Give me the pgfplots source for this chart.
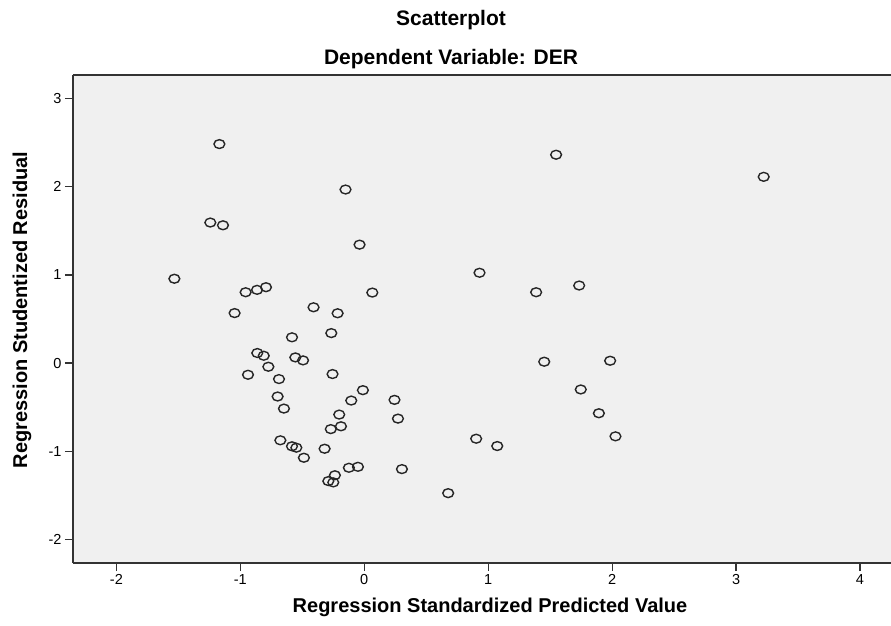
\documentclass[border=0pt]{standalone}
\usepackage{fontspec}
\setmainfont{Liberation Sans}
\usepackage{pgfplots}
\pgfplotsset{compat=1.18}
\definecolor{plotbg}{HTML}{F0F0F0}
\definecolor{axisgray}{HTML}{333333}
\begin{document}
\begin{tikzpicture}[x=1pt,y=1pt]
\useasboundingbox (0,0) rectangle (891,625);
\begin{axis}[
  at={(73pt,62pt)}, anchor=south west,
  width=818pt, height=488pt, scale only axis,
  xmin=-2.35, xmax=4.25, ymin=-2.27, ymax=3.27,
  xtick={-2,-1,0,1,2,3,4}, ytick={-2,-1,0,1,2,3},
  axis x line*=bottom, axis y line*=left,
  axis line style={axisgray, line width=1.6pt, -},
  tick align=outside, major tick length=8pt,
  tick style={axisgray, line width=1.2pt},
  axis background/.style={fill=plotbg},
  ticklabel style={font=\fontsize{14.5}{16}\selectfont},
  /pgf/number format/assume math mode=true,
  clip=false,
]
\addplot[only marks, mark=o, mark size=5.4pt,
  mark options={draw=black!85, line width=1.4pt, yscale=0.82}]
coordinates {
(-1.532,0.957) (-1.169,2.486) (-1.242,1.595) (-1.140,1.564)
(-0.957,0.804) (-0.865,0.831) (-0.793,0.861) (-1.046,0.567)
(-0.409,0.633) (-0.215,0.565) (1.548,2.365) (-0.151,1.970)
(-0.038,1.344) (0.930,1.025) (1.387,0.804) (1.734,0.880)
(0.065,0.800) (-0.266,0.340) (3.223,2.114) (1.984,0.026)
(1.893,-0.570) (2.027,-0.832) (-0.583,0.292) (-0.863,0.114)
(-0.811,0.083) (-0.556,0.064) (-0.494,0.030) (-0.774,-0.042)
(-0.938,-0.133) (-0.688,-0.182) (-0.256,-0.125) (-0.699,-0.380)
(-0.648,-0.517) (-0.011,-0.308) (-0.105,-0.426) (0.244,-0.418)
(-0.202,-0.585) (0.272,-0.631) (-0.188,-0.718) (-0.270,-0.750)
(-0.320,-0.973) (-0.677,-0.877) (-0.583,-0.945) (-0.548,-0.961)
(-0.487,-1.075) (-0.124,-1.189) (-0.051,-1.178) (0.304,-1.204)
(-0.237,-1.274) (-0.290,-1.340) (-0.250,-1.355) (0.677,-1.477)
(0.903,-0.859) (1.073,-0.942) (1.452,0.015) (1.747,-0.300)
};
\draw[axisgray, line width=1.6pt] (rel axis cs:0,1) -- (rel axis cs:1,1);
\end{axis}
\node[font=\fontsize{21}{24}\selectfont\bfseries] at (451,605) {Scatterplot};
\node[font=\fontsize{21}{24}\selectfont\bfseries] at (451,566) {Dependent Variable: DER};
\node[font=\fontsize{20}{24}\selectfont\bfseries] at (490,18) {Regression Standardized Predicted Value};
\node[font=\fontsize{20}{24}\selectfont\bfseries, rotate=90] at (22,315) {Regression Studentized Residual};
\end{tikzpicture}
\end{document}
